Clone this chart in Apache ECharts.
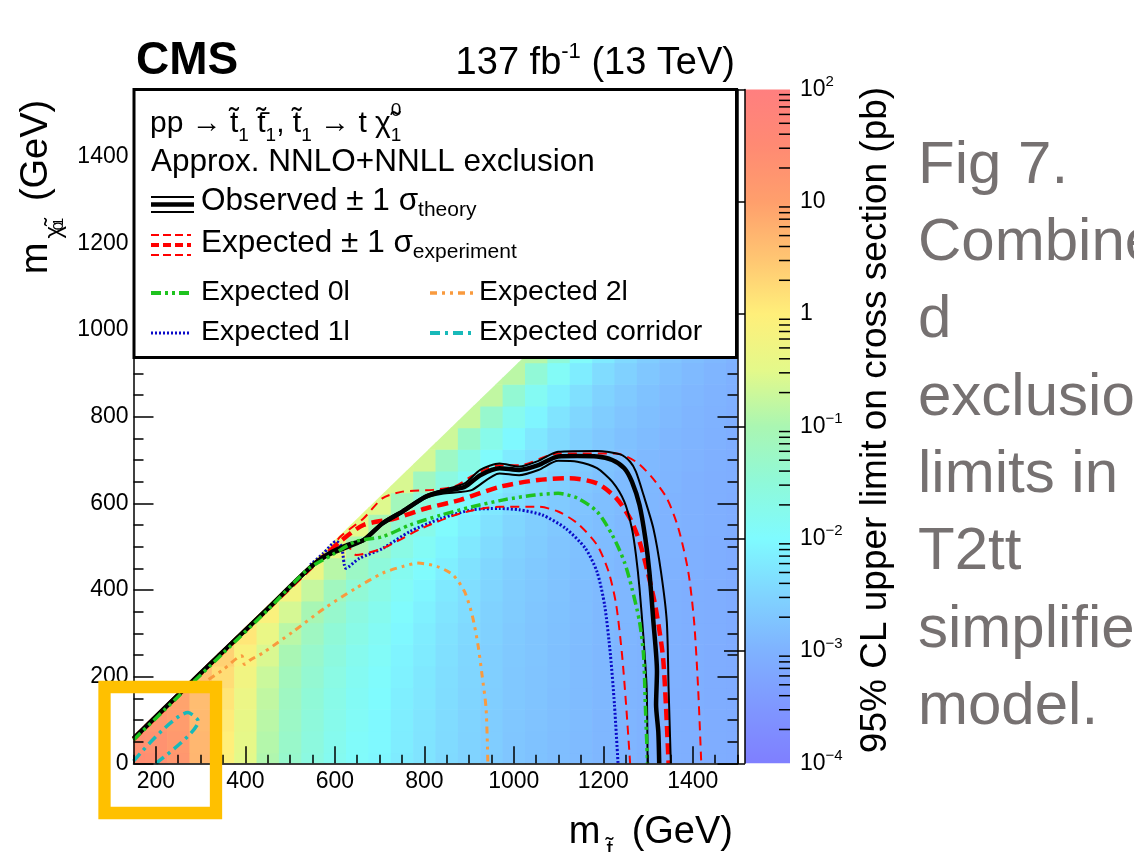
<!DOCTYPE html>
<html>
<head>
<meta charset="utf-8">
<script src="https://cdn.jsdelivr.net/npm/echarts@6/dist/echarts.min.js"></script>
<style>
html, body { margin: 0; padding: 0; background: #fff; }
#chart { width: 1134px; height: 852px; }
</style>
</head>
<body>
<div id="chart"></div>
<script>
const FONT = '"Liberation Sans", Arial, Helvetica, sans-serif';

// limit map grid (GeV)
const stopMasses = [150, 200, 250, 300, 350, 400, 450, 500, 550, 600, 650, 700, 750, 800, 850, 900,
  950, 1000, 1050, 1100, 1150, 1200, 1250, 1300, 1350, 1400, 1450, 1500];
const lspMasses = [0, 50, 100, 150, 200, 250, 300, 350, 400, 450, 500, 550, 600, 650, 700, 750, 800, 850, 900, 950];
// log10 of the 95% CL upper limit (pb), one row per LSP mass, every row ends at m_stop = 1500
const log10LimitRows = [
  [1.42, 1.38, 1.2, 0.7, -0.05, -0.5, -0.95, -1.35, -1.6, -1.8, -1.95, -2.05, -2.2, -2.3, -2.42, -2.52, -2.62, -2.7, -2.76, -2.82, -2.87, -2.92, -2.96, -3.0, -3.03, -3.06, -3.09, -3.12],
  [1.38, 1.32, 1.15, 0.68, 0.0, -0.46, -0.91, -1.31, -1.57, -1.77, -1.93, -2.03, -2.18, -2.29, -2.41, -2.51, -2.61, -2.7, -2.76, -2.82, -2.87, -2.92, -2.96, -3.0, -3.03, -3.06, -3.09, -3.12],
  [1.36, 1.2, 1.08, 0.65, 0.05, -0.42, -0.86, -1.26, -1.53, -1.74, -1.9, -2.02, -2.17, -2.28, -2.4, -2.5, -2.6, -2.69, -2.75, -2.81, -2.86, -2.92, -2.96, -3.0, -3.03, -3.06, -3.09, -3.12],
  [1.15, 0.95, 0.6, 0.12, -0.36, -0.8, -1.2, -1.48, -1.7, -1.87, -1.99, -2.15, -2.26, -2.39, -2.49, -2.59, -2.68, -2.74, -2.81, -2.86, -2.91, -2.95, -2.99, -3.03, -3.06, -3.09, -3.12],
  [0.9, 0.55, 0.22, -0.26, -0.72, -1.13, -1.41, -1.64, -1.83, -1.96, -2.12, -2.24, -2.37, -2.48, -2.58, -2.67, -2.73, -2.8, -2.86, -2.91, -2.95, -2.99, -3.02, -3.06, -3.09, -3.12],
  [0.52, 0.35, -0.12, -0.59, -1.02, -1.33, -1.57, -1.77, -1.91, -2.09, -2.21, -2.35, -2.46, -2.57, -2.66, -2.72, -2.79, -2.85, -2.91, -2.95, -2.99, -3.02, -3.05, -3.09, -3.12],
  [0.32, 0.1, -0.39, -0.86, -1.21, -1.48, -1.69, -1.85, -2.04, -2.18, -2.32, -2.44, -2.55, -2.64, -2.72, -2.78, -2.84, -2.9, -2.94, -2.99, -3.02, -3.05, -3.08, -3.12],
  [0.08, -0.1, -0.62, -1.03, -1.35, -1.6, -1.77, -1.98, -2.13, -2.28, -2.4, -2.53, -2.62, -2.7, -2.77, -2.83, -2.89, -2.93, -2.98, -3.02, -3.05, -3.08, -3.11],
  [-0.12, -0.25, -0.76, -1.17, -1.46, -1.67, -1.9, -2.06, -2.23, -2.37, -2.49, -2.6, -2.68, -2.75, -2.82, -2.88, -2.92, -2.97, -3.01, -3.05, -3.08, -3.11],
  [-0.27, -0.35, -0.88, -1.26, -1.53, -1.8, -1.98, -2.16, -2.32, -2.46, -2.57, -2.66, -2.73, -2.8, -2.87, -2.92, -2.96, -3.0, -3.04, -3.08, -3.11],
  [-0.37, -0.45, -0.96, -1.33, -1.66, -1.88, -2.08, -2.25, -2.4, -2.53, -2.62, -2.72, -2.78, -2.85, -2.91, -2.95, -2.99, -3.03, -3.07, -3.11],
  [-0.46, -0.5, -1.02, -1.45, -1.73, -1.97, -2.16, -2.33, -2.47, -2.59, -2.68, -2.76, -2.83, -2.89, -2.94, -2.98, -3.02, -3.06, -3.1],
  [-0.51, -0.55, -1.13, -1.52, -1.82, -2.05, -2.24, -2.4, -2.53, -2.64, -2.73, -2.81, -2.87, -2.93, -2.98, -3.01, -3.05, -3.09],
  [-0.56, -0.6, -1.19, -1.59, -1.89, -2.13, -2.31, -2.45, -2.58, -2.69, -2.77, -2.85, -2.91, -2.96, -3.01, -3.05, -3.08],
  [-0.61, -0.65, -1.25, -1.66, -1.96, -2.2, -2.36, -2.51, -2.63, -2.74, -2.81, -2.89, -2.94, -2.99, -3.04, -3.08],
  [-0.66, -0.7, -1.31, -1.73, -2.03, -2.25, -2.42, -2.56, -2.68, -2.78, -2.85, -2.92, -2.97, -3.02, -3.07],
  [-0.71, -0.75, -1.36, -1.79, -2.08, -2.3, -2.46, -2.61, -2.72, -2.81, -2.88, -2.95, -3.0, -3.05],
  [-0.76, -0.8, -1.42, -1.84, -2.14, -2.35, -2.51, -2.65, -2.76, -2.85, -2.92, -2.98, -3.03],
  [-0.81, -0.85, -1.47, -1.89, -2.18, -2.4, -2.55, -2.69, -2.79, -2.88, -2.95, -3.01],
  [-0.86, -0.9, -1.5, -1.93, -2.22, -2.44, -2.6, -2.72, -2.83, -2.91, -2.98]
];
const diagonalGap = 85; // map is only filled for m_stop - m_LSP >= this (GeV)

// exclusion contours, [m_stop, m_LSP] in GeV
const observed = [[150, 57], [250, 158], [350, 258], [450, 357], [520, 428], [560, 465], [594, 488], [629, 504],
  [664, 515], [707, 554], [751, 581], [803, 615], [838, 627], [890, 638], [925, 665], [968, 681], [1012, 677],
  [1055, 688], [1099, 708], [1142, 709], [1186, 708], [1220, 700], [1247, 681], [1264, 650], [1281, 596],
  [1294, 519], [1303, 442], [1312, 327], [1320, 212], [1318, 135], [1323, 73], [1325, 0]];
const observedUp = [[150, 60], [250, 161], [350, 261], [450, 360], [560, 468], [600, 492], [664, 518], [707, 557],
  [751, 584], [803, 618], [838, 630], [890, 646], [925, 677], [968, 692], [1012, 685], [1055, 698], [1099, 719],
  [1186, 721], [1238, 713], [1260, 696], [1273, 673], [1290, 619], [1312, 542], [1329, 442], [1342, 327],
  [1346, 173], [1351, 0]];
const observedDown = [[150, 54], [250, 155], [350, 255], [450, 354], [560, 462], [600, 485], [664, 512], [707, 551],
  [751, 578], [803, 612], [840, 622], [880, 626], [907, 631], [968, 669], [1012, 665], [1055, 677], [1099, 698],
  [1142, 696], [1186, 681], [1220, 650], [1247, 604], [1264, 542], [1273, 481], [1281, 404], [1290, 288],
  [1297, 173], [1299, 0]];
const expected = [[150, 56], [250, 157], [350, 257], [450, 356], [550, 455], [590, 490], [612, 512], [664, 550],
  [734, 565], [803, 588], [881, 608], [968, 638], [1055, 654], [1125, 658], [1186, 646], [1229, 612], [1260, 565],
  [1281, 512], [1299, 442], [1316, 365], [1333, 250], [1340, 135], [1346, 0]];
const expectedUp = [[150, 58], [250, 159], [350, 259], [450, 358], [550, 458], [595, 500], [612, 523], [664, 565],
  [707, 612], [751, 627], [820, 631], [870, 640], [910, 665], [968, 688], [1012, 688], [1099, 715], [1142, 715],
  [1229, 715], [1273, 696], [1307, 662], [1342, 612], [1368, 542], [1390, 442], [1403, 327], [1412, 173], [1419, 0]];
const expectedDown = [[150, 55], [250, 156], [350, 256], [450, 355], [550, 454], [600, 488], [629, 500], [647, 481],
  [707, 496], [794, 542], [881, 577], [968, 592], [1055, 592], [1099, 581], [1142, 554], [1186, 504], [1212, 442],
  [1229, 365], [1242, 250], [1251, 135], [1260, 0]];
const expected0l = [[150, 54], [250, 154], [350, 254], [450, 354], [540, 448], [594, 481], [647, 512], [707, 523],
  [768, 550], [838, 573], [907, 592], [977, 608], [1047, 619], [1099, 623], [1142, 612], [1186, 581], [1220, 527],
  [1247, 465], [1264, 404], [1281, 327], [1290, 250], [1294, 135], [1299, 0]];
const expected1l = [[545, 458], [575, 485], [603, 512], [615, 500], [625, 450], [655, 473], [707, 496], [768, 535],
  [838, 565], [907, 585], [968, 588], [1012, 585], [1064, 573], [1116, 542], [1160, 496], [1186, 442], [1203, 365],
  [1216, 250], [1225, 135], [1233, 0]];
const expected2l = [[262, 165], [300, 182], [350, 216], [392, 248], [398, 228], [410, 238], [438, 254], [507, 304],
  [577, 358], [647, 404], [707, 439], [751, 454], [786, 462], [829, 454], [864, 435], [890, 396], [907, 342],
  [920, 273], [929, 204], [938, 127], [942, 0]];
const expectedCorridor = [[150, 5], [272, 117], [295, 97], [200, 0]];

const xRange = [150, 1500], yRange = [0, 1555];
const xTickLabels = [200, 400, 600, 800, 1000, 1200, 1400];
const yTickLabels = [0, 200, 400, 600, 800, 1000, 1200, 1400];
const cbMin = 1e-4, cbMax = 1e2;
// palette from log10 = -4 to 2 in half-decade steps
const paletteColors = ['#7f7fff', '#7f97ff', '#7fb2ff', '#80d4ff', '#7ffbff', '#8ff9d9', '#aaf6b2',
  '#e4f98a', '#ffef7a', '#ffc572', '#ff9f6c', '#ff8a73', '#ff7f7f'];
const cbMinorTicks = [];
for (let e = -4; e < 2; e++) for (let k = 2; k <= 9; k++) cbMinorTicks.push(k * Math.pow(10, e));
const captionLines = ['Fig 7.', 'Combine', 'd', 'exclusion', 'limits in', 'T2tt', 'simplified', 'model.'];

const cellHalf = 25;
const heatData = [];
log10LimitRows.forEach((row, i) => {
  const offset = stopMasses.length - row.length;
  row.forEach((v, j) => heatData.push([stopMasses[offset + j], lspMasses[i], v]));
});

// keep the part of a polygon (data coords) with m_stop - m_LSP >= diagonalGap
function clipToKinematic(pts) {
  const out = [];
  for (let i = 0; i < pts.length; i++) {
    const a = pts[i], b = pts[(i + 1) % pts.length];
    const fa = a[0] - a[1] - diagonalGap, fb = b[0] - b[1] - diagonalGap;
    if (fa >= 0) out.push(a);
    if ((fa >= 0) !== (fb >= 0)) {
      const t = fa / (fa - fb);
      out.push([a[0] + t * (b[0] - a[0]), a[1] + t * (b[1] - a[1])]);
    }
  }
  return out;
}

function renderCell(params, api) {
  const s = api.value(0), m = api.value(1);
  const x0 = Math.max(s - cellHalf, xRange[0]), x1 = Math.min(s + cellHalf + 1.5, xRange[1]);
  const y0 = Math.max(m - cellHalf - 1.5, yRange[0]), y1 = Math.min(m + cellHalf, yRange[1]);
  const poly = clipToKinematic([[x0, y0], [x1, y0], [x1, y1], [x0, y1]]);
  if (poly.length < 3) return null;
  return { type: 'polygon', shape: { points: poly.map(p => api.coord(p)) }, style: { fill: api.visual('color') } };
}

function contour(data, color, width, dash) {
  return {
    type: 'line', xAxisIndex: 0, yAxisIndex: 0, data: data, symbol: 'none', showSymbol: false,
    smooth: 0.25, z: 3, silent: true,
    lineStyle: { color: color, width: width, type: dash || 'solid', cap: 'butt', join: 'round' }
  };
}

const DASH_RED_THICK = [11, 6], DASH_RED_THIN = [9, 6];
const DASH_0L = [10, 4, 3, 4, 3, 4], DASH_1L = [2, 2], DASH_2L = [7, 5, 3, 5, 3, 5], DASH_COR = [10, 5, 3, 5];
const C_RED = '#ff0000', C_GREEN = '#1ec31e', C_BLUE = '#0a0ac8', C_ORANGE = '#f99a3e', C_CYAN = '#18b9b9';

const axisBlack = { color: '#000', width: 1.5 };
const subRich = {
  s: { fontSize: 19, lineHeight: 16, verticalAlign: 'bottom', fontFamily: FONT, fill: '#000' },
  p: { fontSize: 19, lineHeight: 25, verticalAlign: 'top', width: 0, fontFamily: FONT, fill: '#000' },
  t: { fontSize: 21, lineHeight: 21, verticalAlign: 'bottom', fontFamily: FONT, fill: '#000' }
};

function txt(x, baseline, text, size, lh) {
  return {
    type: 'text', z: 60, x: x, y: baseline - 0.347 * size,
    style: { text: text, fontSize: size, fontFamily: FONT, fill: '#000', align: 'left', verticalAlign: 'middle',
      lineHeight: lh || Math.round(size * 1.25), rich: subRich }
  };
}
function sample(x1, x2, y, color, width, dash) {
  return { type: 'line', z: 60, shape: { x1: x1, y1: y, x2: x2, y2: y },
    style: { stroke: color, lineWidth: width, lineDash: dash || null } };
}

const graphics = [
  // legend box
  { type: 'rect', z: 50, shape: { x: 134, y: 89.5, width: 602.5, height: 268 },
    style: { fill: '#fff', stroke: '#000', lineWidth: 3 } },
  txt(150, 134, 'pp \u2192 t\u0303{s|1} t\u0303\u0304{s|1}, t\u0303{s|1} \u2192 t \u03c7\u0303{p|0}{s|1}', 30, 44),
  txt(151, 173, 'Approx. NNLO+NNLL exclusion', 31.5),
  sample(151, 194, 197, '#000', 2),
  sample(151, 194, 204.5, '#000', 4.5),
  sample(151, 194, 212, '#000', 2),
  txt(201, 212, 'Observed \u00b1 1 \u03c3{t|theory}', 31.5, 40),
  sample(151, 191, 235, C_RED, 2, [8, 4]),
  sample(151, 191, 245, C_RED, 4, [8, 4]),
  sample(151, 191, 255, C_RED, 2, [8, 4]),
  txt(201, 254, 'Expected \u00b1 1 \u03c3{t|experiment}', 31.5, 40),
  sample(151, 190, 293, C_GREEN, 4, DASH_0L),
  txt(201, 302, 'Expected 0l', 28.5),
  sample(430, 473, 293, C_ORANGE, 3.5, DASH_2L),
  txt(479, 302, 'Expected 2l', 28.5),
  sample(151, 190, 333, C_BLUE, 3, DASH_1L),
  txt(201, 342, 'Expected 1l', 28.5),
  sample(430, 473, 333, C_CYAN, 4, DASH_COR),
  txt(479, 342, 'Expected corridor', 28.5),
  // header
  { type: 'text', z: 60, x: 136, y: 77 - 0.347 * 46,
    style: { text: 'CMS', fontSize: 46, fontWeight: 'bold', fontFamily: FONT, fill: '#000', verticalAlign: 'middle' } },
  { type: 'text', z: 60, x: 735, y: 77 - 0.347 * 38,
    style: { text: '137 fb{u|-1} (13 TeV)', fontSize: 38, lineHeight: 46, fontFamily: FONT, fill: '#000',
      align: 'right', verticalAlign: 'middle',
      rich: { u: { fontSize: 22, lineHeight: 22, verticalAlign: 'top', fontFamily: FONT, fill: '#000' } } } },
  // axis titles
  { type: 'text', z: 60, x: 733, y: 846 - 0.347 * 38,
    style: { text: 'm{s|t\u0303} (GeV)', fontSize: 38, lineHeight: 60, fontFamily: FONT, fill: '#000',
      align: 'right', verticalAlign: 'middle',
      rich: { s: { fontSize: 24, lineHeight: 20, verticalAlign: 'bottom', padding: [0, 8, 0, 6], fontFamily: FONT, fill: '#000' } } } },
  { type: 'text', z: 60, x: 50 - 0.347 * 38, y: 187, rotation: Math.PI / 2,
    style: { text: 'm{s|\u03c7\u0303}{p|0}{q|1} (GeV)', fontSize: 38, lineHeight: 60, fontFamily: FONT, fill: '#000',
      align: 'center', verticalAlign: 'middle',
      rich: {
        s: { fontSize: 24, lineHeight: 20, verticalAlign: 'bottom', padding: [0, 0, 0, 4], fontFamily: FONT, fill: '#000' },
        p: { fontSize: 15, lineHeight: 38, verticalAlign: 'bottom', width: 0, fontFamily: FONT, fill: '#000' },
        q: { fontSize: 15, lineHeight: 6, verticalAlign: 'bottom', padding: [0, 6, 0, 0], fontFamily: FONT, fill: '#000' }
      } } },
  { type: 'text', z: 60, x: 876, y: 420, rotation: Math.PI / 2,
    style: { text: '95% CL upper limit on cross section (pb)', fontSize: 37, fontFamily: FONT, fill: '#000',
      align: 'center', verticalAlign: 'middle' } },
  // highlight box
  { type: 'rect', z: 100, shape: { x: 104.5, y: 687, width: 111.5, height: 126 },
    style: { fill: 'none', stroke: '#ffc000', lineWidth: 12.3 } }
];
captionLines.forEach((t, i) => {
  graphics.push({ type: 'text', z: 60, x: 918, y: 187 + i * 77.3 - 0.347 * 60,
    style: { text: t, fontSize: 60, fontFamily: FONT, fill: '#767171', verticalAlign: 'middle' } });
});

const plainNumber = v => String(v);

const chart = echarts.init(document.getElementById('chart'));
chart.setOption({
  animation: false,
  backgroundColor: '#fff',
  textStyle: { fontFamily: FONT },
  grid: [
    { left: 133.5, top: 89.5, width: 604, height: 673.8 },
    { left: 745, top: 89.5, width: 45, height: 673.8 }
  ],
  xAxis: [
    { type: 'value', gridIndex: 0, min: xRange[0], max: xRange[1], position: 'bottom', z: 10,
      axisLine: { lineStyle: axisBlack },
      axisTick: { inside: true, length: 17, customValues: xTickLabels, lineStyle: axisBlack },
      axisLabel: { customValues: xTickLabels, formatter: plainNumber, fontSize: 23, color: '#000', margin: 7, fontFamily: FONT },
      splitLine: { show: false } },
    { type: 'value', gridIndex: 0, min: xRange[0], max: xRange[1], interval: 50, position: 'bottom', z: 10,
      axisLine: { show: false },
      axisTick: { inside: true, length: 8.5, lineStyle: axisBlack },
      axisLabel: { show: false }, splitLine: { show: false } },
    { type: 'value', gridIndex: 1, min: 0, max: 1, show: false }
  ],
  yAxis: [
    { type: 'value', gridIndex: 0, min: yRange[0], max: yRange[1], interval: 200, position: 'left', z: 10,
      axisLine: { lineStyle: axisBlack },
      axisTick: { inside: true, length: 20, lineStyle: axisBlack },
      minorTick: { show: true, splitNumber: 4, length: 10, lineStyle: axisBlack },
      axisLabel: { customValues: yTickLabels, formatter: plainNumber, fontSize: 23, color: '#000', margin: 5, fontFamily: FONT },
      splitLine: { show: false } },
    { type: 'value', gridIndex: 0, min: yRange[0], max: yRange[1], interval: 200, position: 'right', z: 10,
      axisLine: { lineStyle: axisBlack },
      axisTick: { inside: true, length: 20, lineStyle: axisBlack },
      minorTick: { show: true, splitNumber: 4, length: 10, lineStyle: axisBlack },
      axisLabel: { show: false }, splitLine: { show: false } },
    { type: 'log', gridIndex: 1, min: cbMin, max: cbMax, logBase: 10, position: 'right', z: 10,
      axisLine: { lineStyle: axisBlack },
      axisTick: { inside: true, length: 21, lineStyle: axisBlack },
      axisLabel: {
        margin: 10, fontSize: 23, color: '#000', fontFamily: FONT,
        formatter: function (v) {
          const e = Math.round(Math.log10(v));
          if (e === 0) return '{b|1}';
          if (e === 1) return '{b|10}';
          return '{b|10}{u|' + (e < 0 ? '\u2212' + (-e) : e) + '}';
        },
        rich: {
          b: { fontSize: 23, lineHeight: 30, fontFamily: FONT, color: '#000' },
          u: { fontSize: 15, lineHeight: 15, verticalAlign: 'top', fontFamily: FONT, color: '#000' }
        }
      },
      splitLine: { show: false } }
  ],
  visualMap: {
    type: 'continuous', show: false, seriesIndex: 0, dimension: 2, min: -4, max: 2,
    inRange: { color: paletteColors }
  },
  series: [
    { type: 'custom', xAxisIndex: 0, yAxisIndex: 0, data: heatData, renderItem: renderCell, z: 1, silent: true },
    contour(expectedCorridor, C_CYAN, 3.5, DASH_COR),
    contour(expected2l, C_ORANGE, 3, DASH_2L),
    contour(expected1l, C_BLUE, 3, DASH_1L),
    contour(expectedUp, C_RED, 2, DASH_RED_THIN),
    contour(expectedDown, C_RED, 2, DASH_RED_THIN),
    contour(expected, C_RED, 4.5, DASH_RED_THICK),
    contour(observedUp, '#000', 2),
    contour(observedDown, '#000', 2),
    contour(observed, '#000', 4.5),
    contour(expected0l, C_GREEN, 3.5, DASH_0L),
    { type: 'custom', xAxisIndex: 2, yAxisIndex: 2, data: [[0, cbMin]], z: 1, silent: true,
      renderItem: function (params, api) {
        const a = api.coord([0, cbMax]), b = api.coord([1, cbMin]);
        return { type: 'rect', shape: { x: a[0], y: a[1], width: b[0] - a[0], height: b[1] - a[1] },
          style: { fill: new echarts.graphic.LinearGradient(0, 1, 0, 0,
            paletteColors.map((c, i) => ({ offset: i / (paletteColors.length - 1), color: c }))) } };
      } },
    { type: 'custom', xAxisIndex: 2, yAxisIndex: 2, data: cbMinorTicks.map(v => [1, v]), z: 5, silent: true,
      renderItem: function (params, api) {
        const p = api.coord([1, api.value(1)]);
        return { type: 'line', shape: { x1: p[0] - 11, y1: p[1], x2: p[0], y2: p[1] },
          style: { stroke: '#000', lineWidth: 1.5 } };
      } }
  ],
  graphic: graphics
});
</script>
</body>
</html>
